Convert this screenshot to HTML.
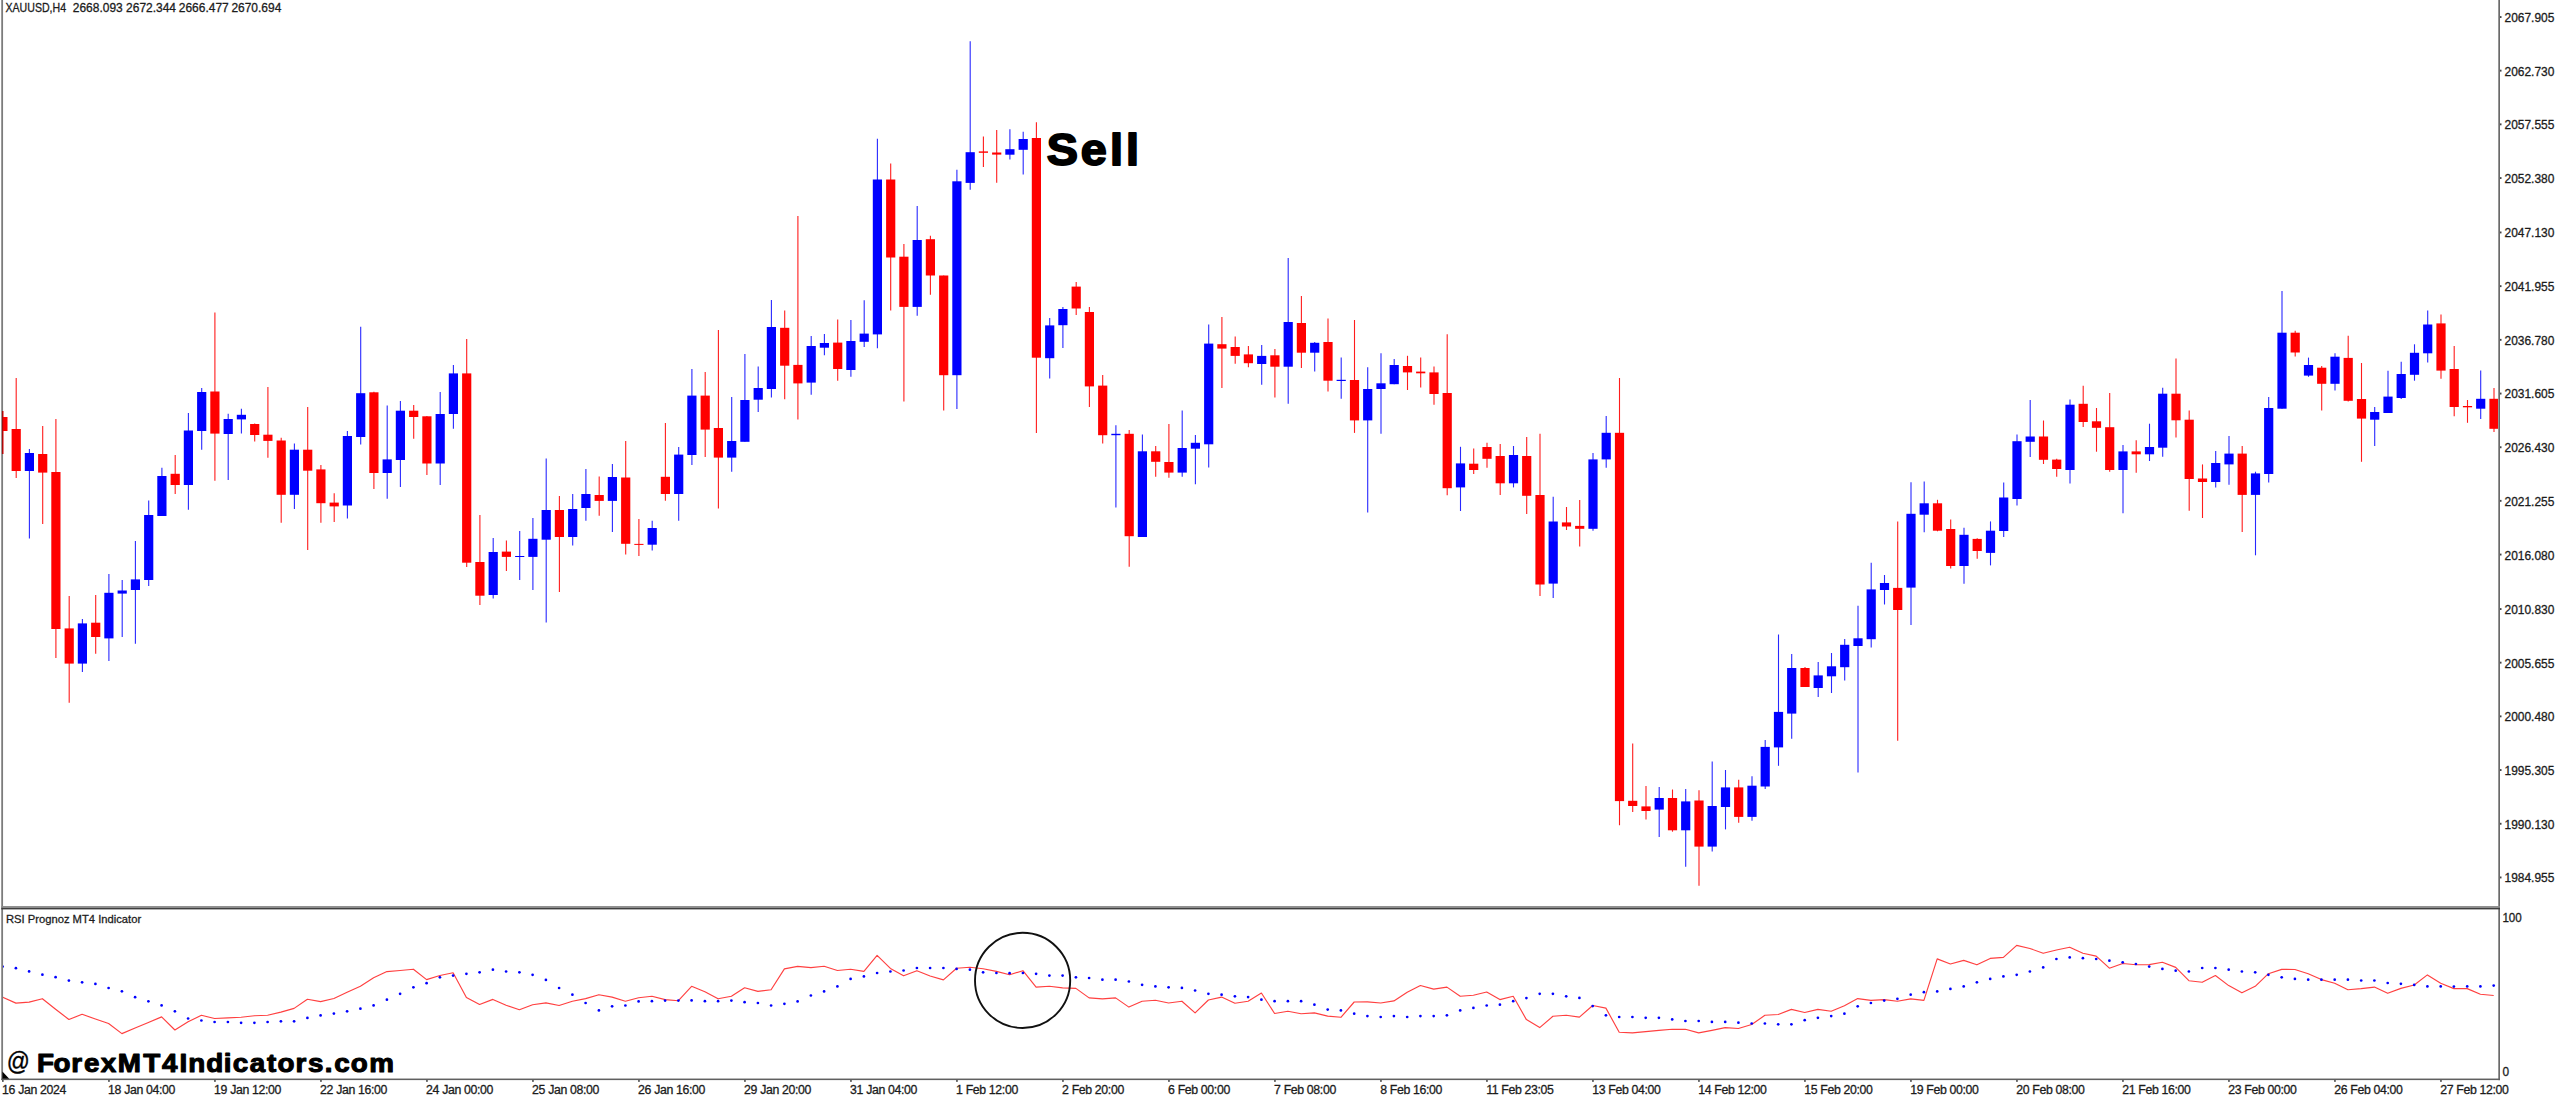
<!DOCTYPE html>
<html lang="en"><head><meta charset="utf-8"><title>XAUUSD H4 - RSI Prognoz MT4 Indicator</title>
<style>
html,body{margin:0;padding:0;background:#fff;}
body{width:2560px;height:1097px;overflow:hidden;position:relative;font-family:"Liberation Sans",sans-serif;}
svg{position:absolute;left:0;top:0;display:block;}
.t{font-family:"Liberation Sans",sans-serif;font-size:12.3px;fill:#1c1c1c;letter-spacing:-0.35px;stroke:#1c1c1c;stroke-width:0.3px;}
.u{font-family:"Liberation Sans",sans-serif;font-size:12.3px;fill:#1c1c1c;stroke:#1c1c1c;stroke-width:0.3px;}
.s{font-family:"Liberation Sans",sans-serif;font-size:11.8px;fill:#1c1c1c;stroke:#1c1c1c;stroke-width:0.3px;}
.w{stroke-width:1.1;fill:none;}
.rw{stroke:#ff1c1c;}
.bw{stroke:#2828ff;}
.r{fill:#ff0000;}
.b{fill:#0000ff;}
.big{font-family:"Liberation Sans",sans-serif;font-weight:bold;fill:#000;stroke:#000;stroke-linejoin:round;}
</style></head><body>
<svg width="2560" height="1097" viewBox="0 0 2560 1097">
<rect x="0" y="0" width="2560" height="1097" fill="#ffffff"/>
<defs><clipPath id="cp"><rect x="3" y="0" width="2495" height="1079"/></clipPath></defs>
<g clip-path="url(#cp)">
<path class="w rw" d="M2.9 411.0V454.0"/>
<rect class="r" x="-1.7" y="417.0" width="9.2" height="14.0"/>
<path class="w rw" d="M16.2 378.0V478.0"/>
<rect class="r" x="11.6" y="429.0" width="9.2" height="42.0"/>
<path class="w bw" d="M29.4 449.0V538.5"/>
<rect class="b" x="24.8" y="453.0" width="9.2" height="18.0"/>
<path class="w rw" d="M42.7 426.0V524.0"/>
<rect class="r" x="38.1" y="454.0" width="9.2" height="18.6"/>
<path class="w rw" d="M55.9 419.0V658.0"/>
<rect class="r" x="51.3" y="472.0" width="9.2" height="157.0"/>
<path class="w rw" d="M69.2 596.0V702.7"/>
<rect class="r" x="64.6" y="628.4" width="9.2" height="35.2"/>
<path class="w bw" d="M82.4 619.0V672.0"/>
<rect class="b" x="77.8" y="623.4" width="9.2" height="40.2"/>
<path class="w rw" d="M95.7 595.0V653.7"/>
<rect class="r" x="91.1" y="622.7" width="9.2" height="14.3"/>
<path class="w bw" d="M108.9 574.0V661.0"/>
<rect class="b" x="104.3" y="592.8" width="9.2" height="45.6"/>
<path class="w bw" d="M122.2 580.0V637.0"/>
<rect class="b" x="117.6" y="590.5" width="9.2" height="3.1"/>
<path class="w bw" d="M135.4 541.0V643.7"/>
<rect class="b" x="130.8" y="579.4" width="9.2" height="10.6"/>
<path class="w bw" d="M148.7 500.6V586.0"/>
<rect class="b" x="144.1" y="515.0" width="9.2" height="65.0"/>
<path class="w bw" d="M161.9 467.7V516.0"/>
<rect class="b" x="157.3" y="476.0" width="9.2" height="40.0"/>
<path class="w rw" d="M175.2 455.0V494.0"/>
<rect class="r" x="170.6" y="473.8" width="9.2" height="11.2"/>
<path class="w bw" d="M188.4 413.0V509.8"/>
<rect class="b" x="183.8" y="430.5" width="9.2" height="54.5"/>
<path class="w bw" d="M201.7 388.0V449.7"/>
<rect class="b" x="197.1" y="392.0" width="9.2" height="39.0"/>
<path class="w rw" d="M214.9 312.6V480.7"/>
<rect class="r" x="210.3" y="391.5" width="9.2" height="42.1"/>
<path class="w bw" d="M228.2 413.7V480.0"/>
<rect class="b" x="223.6" y="419.0" width="9.2" height="15.0"/>
<path class="w bw" d="M241.4 408.7V433.6"/>
<rect class="b" x="236.8" y="414.8" width="9.2" height="4.6"/>
<path class="w rw" d="M254.7 423.6V441.6"/>
<rect class="r" x="250.1" y="424.0" width="9.2" height="11.0"/>
<path class="w rw" d="M267.9 387.0V457.7"/>
<rect class="r" x="263.3" y="434.7" width="9.2" height="6.2"/>
<path class="w rw" d="M281.2 437.8V522.8"/>
<rect class="r" x="276.6" y="440.5" width="9.2" height="54.3"/>
<path class="w bw" d="M294.4 443.5V509.0"/>
<rect class="b" x="289.8" y="449.7" width="9.2" height="45.1"/>
<path class="w rw" d="M307.7 407.0V550.0"/>
<rect class="r" x="303.1" y="449.7" width="9.2" height="21.0"/>
<path class="w rw" d="M320.9 465.0V522.7"/>
<rect class="r" x="316.3" y="469.4" width="9.2" height="33.8"/>
<path class="w rw" d="M334.2 493.3V522.0"/>
<rect class="r" x="329.6" y="502.6" width="9.2" height="3.8"/>
<path class="w bw" d="M347.4 430.9V518.4"/>
<rect class="b" x="342.8" y="436.0" width="9.2" height="69.5"/>
<path class="w bw" d="M360.7 326.7V444.6"/>
<rect class="b" x="356.1" y="393.2" width="9.2" height="43.8"/>
<path class="w rw" d="M373.9 391.8V489.0"/>
<rect class="r" x="369.3" y="392.3" width="9.2" height="80.7"/>
<path class="w bw" d="M387.2 405.5V498.8"/>
<rect class="b" x="382.6" y="459.4" width="9.2" height="13.6"/>
<path class="w bw" d="M400.4 401.0V486.9"/>
<rect class="b" x="395.8" y="410.7" width="9.2" height="49.3"/>
<path class="w rw" d="M413.7 405.0V438.7"/>
<rect class="r" x="409.1" y="410.7" width="9.2" height="6.3"/>
<path class="w rw" d="M426.9 416.0V475.0"/>
<rect class="r" x="422.3" y="416.3" width="9.2" height="47.2"/>
<path class="w bw" d="M440.2 392.0V485.0"/>
<rect class="b" x="435.6" y="414.0" width="9.2" height="49.5"/>
<path class="w bw" d="M453.4 365.0V428.8"/>
<rect class="b" x="448.8" y="373.4" width="9.2" height="40.6"/>
<path class="w rw" d="M466.7 339.0V567.0"/>
<rect class="r" x="462.1" y="373.4" width="9.2" height="189.3"/>
<path class="w rw" d="M479.9 515.0V605.0"/>
<rect class="r" x="475.3" y="562.0" width="9.2" height="33.7"/>
<path class="w bw" d="M493.2 538.0V598.6"/>
<rect class="b" x="488.6" y="552.0" width="9.2" height="43.0"/>
<path class="w rw" d="M506.4 540.5V570.9"/>
<rect class="r" x="501.8" y="551.6" width="9.2" height="5.3"/>
<path class="w bw" d="M519.7 531.0V580.0"/>
<rect class="b" x="515.1" y="556.0" width="9.2" height="1.0"/>
<path class="w bw" d="M532.9 518.0V590.0"/>
<rect class="b" x="528.3" y="538.8" width="9.2" height="18.1"/>
<path class="w bw" d="M546.2 458.6V622.5"/>
<rect class="b" x="541.6" y="510.0" width="9.2" height="29.7"/>
<path class="w rw" d="M559.4 496.0V591.9"/>
<rect class="r" x="554.8" y="510.0" width="9.2" height="27.0"/>
<path class="w bw" d="M572.7 494.0V545.5"/>
<rect class="b" x="568.1" y="509.0" width="9.2" height="28.0"/>
<path class="w bw" d="M585.9 469.0V520.7"/>
<rect class="b" x="581.3" y="494.0" width="9.2" height="14.0"/>
<path class="w rw" d="M599.2 476.6V515.7"/>
<rect class="r" x="594.6" y="495.0" width="9.2" height="5.9"/>
<path class="w bw" d="M612.4 464.0V532.0"/>
<rect class="b" x="607.8" y="477.0" width="9.2" height="23.9"/>
<path class="w rw" d="M625.7 441.0V554.5"/>
<rect class="r" x="621.1" y="477.5" width="9.2" height="66.3"/>
<path class="w rw" d="M638.9 518.9V556.0"/>
<rect class="r" x="634.3" y="543.9" width="9.2" height="1.0"/>
<path class="w bw" d="M652.2 520.7V550.5"/>
<rect class="b" x="647.6" y="528.0" width="9.2" height="16.7"/>
<path class="w rw" d="M665.4 423.0V500.8"/>
<rect class="r" x="660.8" y="476.8" width="9.2" height="17.2"/>
<path class="w bw" d="M678.7 447.0V520.7"/>
<rect class="b" x="674.1" y="454.6" width="9.2" height="39.4"/>
<path class="w bw" d="M691.9 369.0V465.0"/>
<rect class="b" x="687.3" y="395.6" width="9.2" height="59.4"/>
<path class="w rw" d="M705.2 372.0V456.9"/>
<rect class="r" x="700.6" y="395.6" width="9.2" height="34.0"/>
<path class="w rw" d="M718.4 330.0V508.4"/>
<rect class="r" x="713.8" y="428.0" width="9.2" height="29.6"/>
<path class="w bw" d="M731.7 397.0V471.7"/>
<rect class="b" x="727.1" y="441.0" width="9.2" height="16.6"/>
<path class="w bw" d="M744.9 354.0V441.8"/>
<rect class="b" x="740.3" y="400.0" width="9.2" height="41.8"/>
<path class="w bw" d="M758.2 366.5V412.0"/>
<rect class="b" x="753.6" y="388.0" width="9.2" height="11.7"/>
<path class="w bw" d="M771.4 300.0V397.4"/>
<rect class="b" x="766.8" y="327.0" width="9.2" height="62.0"/>
<path class="w rw" d="M784.7 310.4V399.2"/>
<rect class="r" x="780.1" y="327.8" width="9.2" height="37.9"/>
<path class="w rw" d="M797.9 216.0V419.6"/>
<rect class="r" x="793.3" y="364.9" width="9.2" height="18.5"/>
<path class="w bw" d="M811.2 336.0V394.7"/>
<rect class="b" x="806.6" y="346.0" width="9.2" height="36.6"/>
<path class="w bw" d="M824.4 334.0V355.3"/>
<rect class="b" x="819.8" y="343.0" width="9.2" height="4.7"/>
<path class="w rw" d="M837.7 319.4V380.7"/>
<rect class="r" x="833.1" y="342.6" width="9.2" height="26.4"/>
<path class="w bw" d="M850.9 320.0V376.8"/>
<rect class="b" x="846.3" y="341.0" width="9.2" height="29.0"/>
<path class="w bw" d="M864.2 300.3V346.9"/>
<rect class="b" x="859.6" y="333.6" width="9.2" height="8.2"/>
<path class="w bw" d="M877.4 138.7V348.2"/>
<rect class="b" x="872.8" y="179.5" width="9.2" height="154.9"/>
<path class="w rw" d="M890.7 163.6V310.6"/>
<rect class="r" x="886.1" y="179.5" width="9.2" height="78.0"/>
<path class="w rw" d="M903.9 244.0V401.6"/>
<rect class="r" x="899.3" y="256.7" width="9.2" height="50.2"/>
<path class="w bw" d="M917.2 205.9V315.7"/>
<rect class="b" x="912.6" y="240.0" width="9.2" height="66.9"/>
<path class="w rw" d="M930.4 235.8V294.8"/>
<rect class="r" x="925.8" y="239.2" width="9.2" height="36.3"/>
<path class="w rw" d="M943.7 275.5V410.6"/>
<rect class="r" x="939.1" y="275.5" width="9.2" height="99.7"/>
<path class="w bw" d="M956.9 169.7V409.0"/>
<rect class="b" x="952.3" y="181.3" width="9.2" height="193.9"/>
<path class="w bw" d="M970.2 41.2V189.8"/>
<rect class="b" x="965.6" y="152.2" width="9.2" height="30.7"/>
<path class="w rw" d="M983.4 136.5V167.1"/>
<rect class="r" x="978.8" y="151.4" width="9.2" height="1.4"/>
<path class="w rw" d="M996.7 130.0V182.7"/>
<rect class="r" x="992.1" y="152.5" width="9.2" height="2.1"/>
<path class="w bw" d="M1009.9 129.2V159.5"/>
<rect class="b" x="1005.3" y="149.2" width="9.2" height="5.5"/>
<path class="w bw" d="M1023.2 131.7V174.4"/>
<rect class="b" x="1018.6" y="139.0" width="9.2" height="10.8"/>
<path class="w rw" d="M1036.4 122.2V433.1"/>
<rect class="r" x="1031.8" y="138.0" width="9.2" height="219.7"/>
<path class="w bw" d="M1049.7 318.0V378.6"/>
<rect class="b" x="1045.1" y="325.4" width="9.2" height="32.8"/>
<path class="w bw" d="M1062.9 307.0V348.0"/>
<rect class="b" x="1058.3" y="309.0" width="9.2" height="16.2"/>
<path class="w rw" d="M1076.2 282.0V315.0"/>
<rect class="r" x="1071.6" y="286.6" width="9.2" height="21.9"/>
<path class="w rw" d="M1089.4 307.0V407.0"/>
<rect class="r" x="1084.8" y="312.0" width="9.2" height="74.4"/>
<path class="w rw" d="M1102.7 374.9V443.4"/>
<rect class="r" x="1098.1" y="385.6" width="9.2" height="49.6"/>
<path class="w bw" d="M1115.9 425.3V507.6"/>
<rect class="b" x="1111.3" y="433.8" width="9.2" height="1.4"/>
<path class="w rw" d="M1129.2 430.0V566.8"/>
<rect class="r" x="1124.6" y="433.8" width="9.2" height="102.4"/>
<path class="w bw" d="M1142.4 434.4V537.0"/>
<rect class="b" x="1137.8" y="451.3" width="9.2" height="85.7"/>
<path class="w rw" d="M1155.7 446.0V476.7"/>
<rect class="r" x="1151.1" y="451.3" width="9.2" height="10.5"/>
<path class="w rw" d="M1168.9 423.9V477.8"/>
<rect class="r" x="1164.3" y="462.0" width="9.2" height="10.6"/>
<path class="w bw" d="M1182.2 410.4V476.7"/>
<rect class="b" x="1177.6" y="448.0" width="9.2" height="24.6"/>
<path class="w bw" d="M1195.4 435.0V484.2"/>
<rect class="b" x="1190.8" y="442.8" width="9.2" height="5.9"/>
<path class="w bw" d="M1208.7 324.4V467.6"/>
<rect class="b" x="1204.1" y="343.6" width="9.2" height="100.7"/>
<path class="w rw" d="M1221.9 317.0V388.0"/>
<rect class="r" x="1217.3" y="344.2" width="9.2" height="4.4"/>
<path class="w rw" d="M1235.2 336.6V363.8"/>
<rect class="r" x="1230.6" y="347.0" width="9.2" height="8.9"/>
<path class="w rw" d="M1248.4 346.0V367.3"/>
<rect class="r" x="1243.8" y="354.4" width="9.2" height="8.8"/>
<path class="w bw" d="M1261.7 345.0V384.8"/>
<rect class="b" x="1257.1" y="355.9" width="9.2" height="8.1"/>
<path class="w rw" d="M1274.9 349.0V397.6"/>
<rect class="r" x="1270.3" y="355.3" width="9.2" height="11.4"/>
<path class="w bw" d="M1288.2 258.0V403.7"/>
<rect class="b" x="1283.6" y="322.0" width="9.2" height="44.7"/>
<path class="w rw" d="M1301.4 296.0V368.0"/>
<rect class="r" x="1296.8" y="323.0" width="9.2" height="29.7"/>
<path class="w bw" d="M1314.7 342.0V371.6"/>
<rect class="b" x="1310.1" y="342.8" width="9.2" height="9.9"/>
<path class="w rw" d="M1328.0 318.6V391.5"/>
<rect class="r" x="1323.4" y="342.0" width="9.2" height="38.7"/>
<path class="w bw" d="M1341.2 357.4V398.8"/>
<rect class="b" x="1336.6" y="379.8" width="9.2" height="1.2"/>
<path class="w rw" d="M1354.5 320.0V432.9"/>
<rect class="r" x="1349.9" y="380.0" width="9.2" height="40.4"/>
<path class="w bw" d="M1367.7 367.3V512.5"/>
<rect class="b" x="1363.1" y="389.0" width="9.2" height="31.4"/>
<path class="w bw" d="M1381.0 353.3V433.8"/>
<rect class="b" x="1376.4" y="383.3" width="9.2" height="5.7"/>
<path class="w bw" d="M1394.2 359.0V384.2"/>
<rect class="b" x="1389.6" y="365.0" width="9.2" height="19.2"/>
<path class="w rw" d="M1407.5 355.8V390.0"/>
<rect class="r" x="1402.9" y="366.0" width="9.2" height="6.4"/>
<path class="w rw" d="M1420.7 357.5V387.6"/>
<rect class="r" x="1416.1" y="371.6" width="9.2" height="1.7"/>
<path class="w rw" d="M1434.0 366.6V404.8"/>
<rect class="r" x="1429.4" y="372.4" width="9.2" height="21.6"/>
<path class="w rw" d="M1447.2 334.2V495.2"/>
<rect class="r" x="1442.6" y="393.0" width="9.2" height="95.2"/>
<path class="w bw" d="M1460.5 446.8V511.0"/>
<rect class="b" x="1455.9" y="463.4" width="9.2" height="24.0"/>
<path class="w rw" d="M1473.7 448.6V474.0"/>
<rect class="r" x="1469.1" y="463.7" width="9.2" height="6.3"/>
<path class="w rw" d="M1487.0 442.7V467.8"/>
<rect class="r" x="1482.4" y="447.0" width="9.2" height="11.8"/>
<path class="w rw" d="M1500.2 444.0V495.0"/>
<rect class="r" x="1495.6" y="456.0" width="9.2" height="27.3"/>
<path class="w bw" d="M1513.5 446.0V487.4"/>
<rect class="b" x="1508.9" y="455.0" width="9.2" height="28.3"/>
<path class="w rw" d="M1526.7 437.0V514.0"/>
<rect class="r" x="1522.1" y="456.0" width="9.2" height="39.8"/>
<path class="w rw" d="M1540.0 433.7V596.0"/>
<rect class="r" x="1535.4" y="495.0" width="9.2" height="89.5"/>
<path class="w bw" d="M1553.2 496.7V598.0"/>
<rect class="b" x="1548.6" y="521.5" width="9.2" height="62.1"/>
<path class="w rw" d="M1566.5 507.0V530.0"/>
<rect class="r" x="1561.9" y="522.4" width="9.2" height="4.1"/>
<path class="w rw" d="M1579.7 500.0V546.6"/>
<rect class="r" x="1575.1" y="525.9" width="9.2" height="2.9"/>
<path class="w bw" d="M1593.0 453.0V530.8"/>
<rect class="b" x="1588.4" y="459.4" width="9.2" height="69.4"/>
<path class="w bw" d="M1606.2 416.0V467.8"/>
<rect class="b" x="1601.6" y="432.8" width="9.2" height="26.6"/>
<path class="w rw" d="M1619.5 378.0V825.3"/>
<rect class="r" x="1614.9" y="432.8" width="9.2" height="368.3"/>
<path class="w rw" d="M1632.7 743.4V812.0"/>
<rect class="r" x="1628.1" y="800.8" width="9.2" height="5.2"/>
<path class="w rw" d="M1646.0 786.0V819.5"/>
<rect class="r" x="1641.4" y="806.4" width="9.2" height="4.6"/>
<path class="w bw" d="M1659.2 787.0V837.0"/>
<rect class="b" x="1654.6" y="798.0" width="9.2" height="11.6"/>
<path class="w rw" d="M1672.5 789.5V831.7"/>
<rect class="r" x="1667.9" y="798.0" width="9.2" height="32.3"/>
<path class="w bw" d="M1685.7 788.9V866.8"/>
<rect class="b" x="1681.1" y="801.4" width="9.2" height="28.9"/>
<path class="w rw" d="M1699.0 790.3V885.7"/>
<rect class="r" x="1694.4" y="800.5" width="9.2" height="46.1"/>
<path class="w bw" d="M1712.2 761.4V851.6"/>
<rect class="b" x="1707.6" y="806.0" width="9.2" height="40.6"/>
<path class="w bw" d="M1725.5 770.0V829.4"/>
<rect class="b" x="1720.9" y="787.4" width="9.2" height="19.6"/>
<path class="w rw" d="M1738.7 779.8V822.7"/>
<rect class="r" x="1734.1" y="787.4" width="9.2" height="29.5"/>
<path class="w bw" d="M1752.0 776.3V820.7"/>
<rect class="b" x="1747.4" y="785.7" width="9.2" height="31.2"/>
<path class="w bw" d="M1765.2 739.9V788.9"/>
<rect class="b" x="1760.6" y="746.9" width="9.2" height="39.6"/>
<path class="w bw" d="M1778.5 634.5V765.8"/>
<rect class="b" x="1773.9" y="711.9" width="9.2" height="35.5"/>
<path class="w bw" d="M1791.7 654.0V738.7"/>
<rect class="b" x="1787.1" y="668.0" width="9.2" height="45.6"/>
<path class="w rw" d="M1805.0 667.0V687.0"/>
<rect class="r" x="1800.4" y="668.0" width="9.2" height="19.0"/>
<path class="w bw" d="M1818.2 662.0V697.0"/>
<rect class="b" x="1813.6" y="675.4" width="9.2" height="12.6"/>
<path class="w bw" d="M1831.5 653.0V693.0"/>
<rect class="b" x="1826.9" y="666.3" width="9.2" height="10.0"/>
<path class="w bw" d="M1844.7 639.0V680.6"/>
<rect class="b" x="1840.1" y="644.8" width="9.2" height="22.4"/>
<path class="w bw" d="M1858.0 605.7V772.5"/>
<rect class="b" x="1853.4" y="638.3" width="9.2" height="7.7"/>
<path class="w bw" d="M1871.2 562.8V647.4"/>
<rect class="b" x="1866.6" y="589.4" width="9.2" height="49.8"/>
<path class="w bw" d="M1884.5 575.0V604.5"/>
<rect class="b" x="1879.9" y="583.0" width="9.2" height="7.0"/>
<path class="w rw" d="M1897.7 521.4V740.7"/>
<rect class="r" x="1893.1" y="587.9" width="9.2" height="22.1"/>
<path class="w bw" d="M1911.0 482.3V625.0"/>
<rect class="b" x="1906.4" y="513.8" width="9.2" height="73.8"/>
<path class="w bw" d="M1924.2 481.4V532.2"/>
<rect class="b" x="1919.6" y="503.3" width="9.2" height="11.4"/>
<path class="w rw" d="M1937.5 499.8V531.3"/>
<rect class="r" x="1932.9" y="503.3" width="9.2" height="27.4"/>
<path class="w rw" d="M1950.7 519.6V568.4"/>
<rect class="r" x="1946.1" y="529.0" width="9.2" height="37.0"/>
<path class="w bw" d="M1964.0 527.8V583.8"/>
<rect class="b" x="1959.4" y="534.8" width="9.2" height="31.2"/>
<path class="w rw" d="M1977.2 538.3V558.7"/>
<rect class="r" x="1972.6" y="538.9" width="9.2" height="12.1"/>
<path class="w bw" d="M1990.5 521.4V565.4"/>
<rect class="b" x="1985.9" y="530.7" width="9.2" height="22.2"/>
<path class="w bw" d="M2003.7 482.6V537.0"/>
<rect class="b" x="1999.1" y="497.5" width="9.2" height="33.5"/>
<path class="w bw" d="M2017.0 434.5V505.6"/>
<rect class="b" x="2012.4" y="441.2" width="9.2" height="57.8"/>
<path class="w bw" d="M2030.2 400.0V457.0"/>
<rect class="b" x="2025.6" y="436.5" width="9.2" height="5.3"/>
<path class="w rw" d="M2043.5 420.5V464.0"/>
<rect class="r" x="2038.9" y="436.5" width="9.2" height="23.3"/>
<path class="w rw" d="M2056.7 458.7V476.8"/>
<rect class="r" x="2052.1" y="459.6" width="9.2" height="9.4"/>
<path class="w bw" d="M2070.0 399.5V483.5"/>
<rect class="b" x="2065.4" y="404.7" width="9.2" height="65.3"/>
<path class="w rw" d="M2083.2 385.8V427.0"/>
<rect class="r" x="2078.6" y="403.8" width="9.2" height="18.2"/>
<path class="w rw" d="M2096.5 408.0V451.7"/>
<rect class="r" x="2091.9" y="421.3" width="9.2" height="6.5"/>
<path class="w rw" d="M2109.7 393.0V471.8"/>
<rect class="r" x="2105.1" y="427.2" width="9.2" height="42.8"/>
<path class="w bw" d="M2123.0 445.0V513.2"/>
<rect class="b" x="2118.4" y="451.4" width="9.2" height="18.6"/>
<path class="w rw" d="M2136.2 440.3V472.7"/>
<rect class="r" x="2131.6" y="451.4" width="9.2" height="2.9"/>
<path class="w bw" d="M2149.5 423.7V461.0"/>
<rect class="b" x="2144.9" y="447.0" width="9.2" height="7.3"/>
<path class="w bw" d="M2162.7 387.8V456.7"/>
<rect class="b" x="2158.1" y="393.7" width="9.2" height="54.0"/>
<path class="w rw" d="M2176.0 358.4V437.5"/>
<rect class="r" x="2171.4" y="393.7" width="9.2" height="26.6"/>
<path class="w rw" d="M2189.2 410.4V510.7"/>
<rect class="r" x="2184.6" y="419.7" width="9.2" height="59.3"/>
<path class="w rw" d="M2202.5 464.4V518.0"/>
<rect class="r" x="2197.9" y="478.5" width="9.2" height="3.5"/>
<path class="w bw" d="M2215.7 451.0V487.5"/>
<rect class="b" x="2211.1" y="463.0" width="9.2" height="19.0"/>
<path class="w bw" d="M2229.0 436.0V484.7"/>
<rect class="b" x="2224.4" y="453.6" width="9.2" height="10.8"/>
<path class="w rw" d="M2242.2 446.0V532.0"/>
<rect class="r" x="2237.6" y="453.6" width="9.2" height="41.3"/>
<path class="w bw" d="M2255.5 471.7V555.3"/>
<rect class="b" x="2250.9" y="473.4" width="9.2" height="21.5"/>
<path class="w bw" d="M2268.7 397.0V482.4"/>
<rect class="b" x="2264.1" y="408.0" width="9.2" height="66.0"/>
<path class="w bw" d="M2282.0 291.0V408.7"/>
<rect class="b" x="2277.4" y="332.7" width="9.2" height="76.0"/>
<path class="w rw" d="M2295.2 330.7V356.4"/>
<rect class="r" x="2290.6" y="332.7" width="9.2" height="19.8"/>
<path class="w bw" d="M2308.5 357.6V376.8"/>
<rect class="b" x="2303.9" y="365.0" width="9.2" height="10.6"/>
<path class="w rw" d="M2321.7 366.0V410.4"/>
<rect class="r" x="2317.1" y="367.7" width="9.2" height="16.1"/>
<path class="w bw" d="M2335.0 353.3V390.6"/>
<rect class="b" x="2330.4" y="356.7" width="9.2" height="27.1"/>
<path class="w rw" d="M2348.2 335.8V401.6"/>
<rect class="r" x="2343.6" y="357.9" width="9.2" height="42.9"/>
<path class="w rw" d="M2361.5 363.0V461.8"/>
<rect class="r" x="2356.9" y="399.0" width="9.2" height="19.6"/>
<path class="w bw" d="M2374.7 407.0V446.0"/>
<rect class="b" x="2370.1" y="412.0" width="9.2" height="7.7"/>
<path class="w bw" d="M2388.0 370.8V413.0"/>
<rect class="b" x="2383.4" y="396.6" width="9.2" height="16.4"/>
<path class="w bw" d="M2401.2 361.8V399.0"/>
<rect class="b" x="2396.6" y="374.0" width="9.2" height="24.0"/>
<path class="w bw" d="M2414.5 344.3V380.7"/>
<rect class="b" x="2409.9" y="352.8" width="9.2" height="22.0"/>
<path class="w bw" d="M2427.7 310.4V362.4"/>
<rect class="b" x="2423.1" y="324.5" width="9.2" height="28.8"/>
<path class="w rw" d="M2441.0 314.4V378.8"/>
<rect class="r" x="2436.4" y="323.4" width="9.2" height="47.2"/>
<path class="w rw" d="M2454.2 346.0V416.3"/>
<rect class="r" x="2449.6" y="369.0" width="9.2" height="38.0"/>
<path class="w rw" d="M2467.5 400.0V422.8"/>
<rect class="r" x="2462.9" y="406.0" width="9.2" height="1.3"/>
<path class="w bw" d="M2480.7 370.6V418.9"/>
<rect class="b" x="2476.1" y="398.8" width="9.2" height="9.9"/>
<path class="w rw" d="M2494.0 388.0V431.9"/>
<rect class="r" x="2489.4" y="398.8" width="9.2" height="30.0"/>
<polyline points="2.6,997.2 15.9,1003.1 29.1,1002.1 42.4,998.7 55.6,1009.2 68.9,1019.5 82.1,1014.3 95.4,1019.0 108.6,1023.5 121.9,1033.6 135.1,1028.0 148.4,1022.5 161.6,1016.9 174.9,1030.0 188.1,1021.8 201.4,1015.3 214.6,1018.5 227.9,1017.9 241.1,1017.2 254.4,1015.7 267.6,1015.3 280.9,1012.1 294.1,1008.4 307.4,999.3 320.6,1001.6 333.9,998.5 347.1,992.3 360.4,986.2 373.6,977.8 386.9,971.6 400.1,970.5 413.4,969.2 426.6,979.6 439.9,975.5 453.1,972.8 466.4,997.4 479.6,1004.5 492.9,999.4 506.1,1005.3 519.4,1009.7 532.6,1004.7 545.9,1002.9 559.1,1005.5 572.4,1001.2 585.6,998.6 598.9,994.7 612.1,997.1 625.4,1001.2 638.6,997.8 651.9,996.3 665.1,999.6 678.4,1000.7 691.6,986.3 704.9,991.7 718.1,998.8 731.4,996.3 744.6,987.8 757.9,991.4 771.1,989.7 784.4,968.9 797.6,966.4 810.9,967.6 824.1,966.3 837.4,970.5 850.6,969.2 863.9,971.4 877.1,955.4 890.4,968.4 903.6,975.8 916.9,970.7 930.1,976.0 943.4,979.9 956.6,968.2 969.9,967.3 983.1,968.7 996.4,971.4 1009.6,974.8 1022.9,970.7 1036.1,987.1 1049.4,986.3 1062.6,987.9 1075.9,988.4 1089.1,997.9 1102.4,998.9 1115.6,997.9 1128.9,1007.1 1142.1,1001.2 1155.4,1000.2 1168.6,1003.0 1181.9,1001.2 1195.1,1012.9 1208.4,1000.0 1221.6,997.1 1234.9,1003.2 1248.1,1001.2 1261.4,993.0 1274.6,1013.5 1287.9,1011.2 1301.1,1013.7 1314.4,1012.9 1327.7,1016.1 1340.9,1017.3 1354.2,1002.0 1367.4,1001.9 1380.7,1003.0 1393.9,1000.9 1407.2,992.2 1420.4,985.5 1433.7,989.1 1446.9,987.1 1460.2,996.3 1473.4,995.3 1486.7,992.0 1499.9,999.6 1513.2,996.3 1526.4,1019.6 1539.7,1027.6 1552.9,1016.3 1566.2,1015.2 1579.4,1017.1 1592.7,1005.5 1605.9,1008.1 1619.2,1032.2 1632.4,1032.9 1645.7,1031.6 1658.9,1030.4 1672.2,1029.3 1685.4,1029.3 1698.7,1032.9 1711.9,1030.4 1725.2,1027.6 1738.4,1028.5 1751.7,1024.5 1764.9,1015.3 1778.2,1014.5 1791.4,1009.4 1804.7,1012.5 1817.9,1009.4 1831.2,1011.2 1844.4,1005.8 1857.7,998.6 1870.9,1000.4 1884.2,999.6 1897.4,1001.2 1910.7,998.9 1923.9,1000.4 1937.2,958.9 1950.4,964.0 1963.7,960.4 1976.9,964.8 1990.2,958.4 2003.4,957.4 2016.7,945.4 2029.9,948.5 2043.2,953.3 2056.4,950.0 2069.7,947.2 2082.9,953.3 2096.2,956.1 2109.4,968.2 2122.7,963.5 2135.9,964.8 2149.2,964.6 2162.4,962.3 2175.7,967.4 2188.9,980.7 2202.2,982.3 2215.4,975.5 2228.7,985.6 2241.9,992.8 2255.2,986.3 2268.4,973.7 2281.7,969.4 2294.9,969.5 2308.2,973.7 2321.4,979.6 2334.7,983.2 2347.9,989.7 2361.2,988.6 2374.4,987.1 2387.7,993.3 2400.9,988.4 2414.2,985.0 2427.4,974.9 2440.7,983.2 2453.9,988.6 2467.2,988.6 2480.4,994.3 2493.7,995.5" fill="none" stroke="#ff4040" stroke-width="1.15" stroke-linejoin="round"/>
<circle cx="2.6" cy="966.5" r="1.35" fill="#0000ff"/>
<circle cx="15.9" cy="968.2" r="1.35" fill="#0000ff"/>
<circle cx="29.1" cy="971.4" r="1.35" fill="#0000ff"/>
<circle cx="42.4" cy="974.7" r="1.35" fill="#0000ff"/>
<circle cx="55.6" cy="977.2" r="1.35" fill="#0000ff"/>
<circle cx="68.9" cy="980.6" r="1.35" fill="#0000ff"/>
<circle cx="82.1" cy="982.3" r="1.35" fill="#0000ff"/>
<circle cx="95.4" cy="983.9" r="1.35" fill="#0000ff"/>
<circle cx="108.6" cy="988.0" r="1.35" fill="#0000ff"/>
<circle cx="121.9" cy="991.3" r="1.35" fill="#0000ff"/>
<circle cx="135.1" cy="997.2" r="1.35" fill="#0000ff"/>
<circle cx="148.4" cy="1001.3" r="1.35" fill="#0000ff"/>
<circle cx="161.6" cy="1005.4" r="1.35" fill="#0000ff"/>
<circle cx="174.9" cy="1011.3" r="1.35" fill="#0000ff"/>
<circle cx="188.1" cy="1018.5" r="1.35" fill="#0000ff"/>
<circle cx="201.4" cy="1020.5" r="1.35" fill="#0000ff"/>
<circle cx="214.6" cy="1022.0" r="1.35" fill="#0000ff"/>
<circle cx="227.9" cy="1022.0" r="1.35" fill="#0000ff"/>
<circle cx="241.1" cy="1022.8" r="1.35" fill="#0000ff"/>
<circle cx="254.4" cy="1022.8" r="1.35" fill="#0000ff"/>
<circle cx="267.6" cy="1022.0" r="1.35" fill="#0000ff"/>
<circle cx="280.9" cy="1021.3" r="1.35" fill="#0000ff"/>
<circle cx="294.1" cy="1021.3" r="1.35" fill="#0000ff"/>
<circle cx="307.4" cy="1017.9" r="1.35" fill="#0000ff"/>
<circle cx="320.6" cy="1015.4" r="1.35" fill="#0000ff"/>
<circle cx="333.9" cy="1013.6" r="1.35" fill="#0000ff"/>
<circle cx="347.1" cy="1011.3" r="1.35" fill="#0000ff"/>
<circle cx="360.4" cy="1008.7" r="1.35" fill="#0000ff"/>
<circle cx="373.6" cy="1005.4" r="1.35" fill="#0000ff"/>
<circle cx="386.9" cy="999.7" r="1.35" fill="#0000ff"/>
<circle cx="400.1" cy="993.8" r="1.35" fill="#0000ff"/>
<circle cx="413.4" cy="987.3" r="1.35" fill="#0000ff"/>
<circle cx="426.6" cy="983.2" r="1.35" fill="#0000ff"/>
<circle cx="439.9" cy="977.3" r="1.35" fill="#0000ff"/>
<circle cx="453.1" cy="975.6" r="1.35" fill="#0000ff"/>
<circle cx="466.4" cy="973.8" r="1.35" fill="#0000ff"/>
<circle cx="479.6" cy="972.3" r="1.35" fill="#0000ff"/>
<circle cx="492.9" cy="969.7" r="1.35" fill="#0000ff"/>
<circle cx="506.1" cy="971.5" r="1.35" fill="#0000ff"/>
<circle cx="519.4" cy="972.3" r="1.35" fill="#0000ff"/>
<circle cx="532.6" cy="974.8" r="1.35" fill="#0000ff"/>
<circle cx="545.9" cy="979.9" r="1.35" fill="#0000ff"/>
<circle cx="559.1" cy="988.0" r="1.35" fill="#0000ff"/>
<circle cx="572.4" cy="994.7" r="1.35" fill="#0000ff"/>
<circle cx="585.6" cy="1003.0" r="1.35" fill="#0000ff"/>
<circle cx="598.9" cy="1010.4" r="1.35" fill="#0000ff"/>
<circle cx="612.1" cy="1006.3" r="1.35" fill="#0000ff"/>
<circle cx="625.4" cy="1005.5" r="1.35" fill="#0000ff"/>
<circle cx="638.6" cy="1001.4" r="1.35" fill="#0000ff"/>
<circle cx="651.9" cy="1001.2" r="1.35" fill="#0000ff"/>
<circle cx="665.1" cy="1000.6" r="1.35" fill="#0000ff"/>
<circle cx="678.4" cy="1000.6" r="1.35" fill="#0000ff"/>
<circle cx="691.6" cy="1000.4" r="1.35" fill="#0000ff"/>
<circle cx="704.9" cy="1001.2" r="1.35" fill="#0000ff"/>
<circle cx="718.1" cy="1001.2" r="1.35" fill="#0000ff"/>
<circle cx="731.4" cy="1000.6" r="1.35" fill="#0000ff"/>
<circle cx="744.6" cy="1002.2" r="1.35" fill="#0000ff"/>
<circle cx="757.9" cy="1003.0" r="1.35" fill="#0000ff"/>
<circle cx="771.1" cy="1005.5" r="1.35" fill="#0000ff"/>
<circle cx="784.4" cy="1003.8" r="1.35" fill="#0000ff"/>
<circle cx="797.6" cy="1001.4" r="1.35" fill="#0000ff"/>
<circle cx="810.9" cy="995.5" r="1.35" fill="#0000ff"/>
<circle cx="824.1" cy="991.4" r="1.35" fill="#0000ff"/>
<circle cx="837.4" cy="986.4" r="1.35" fill="#0000ff"/>
<circle cx="850.6" cy="978.9" r="1.35" fill="#0000ff"/>
<circle cx="863.9" cy="976.4" r="1.35" fill="#0000ff"/>
<circle cx="877.1" cy="973.0" r="1.35" fill="#0000ff"/>
<circle cx="890.4" cy="971.5" r="1.35" fill="#0000ff"/>
<circle cx="903.6" cy="970.5" r="1.35" fill="#0000ff"/>
<circle cx="916.9" cy="968.0" r="1.35" fill="#0000ff"/>
<circle cx="930.1" cy="968.0" r="1.35" fill="#0000ff"/>
<circle cx="943.4" cy="968.0" r="1.35" fill="#0000ff"/>
<circle cx="956.6" cy="968.9" r="1.35" fill="#0000ff"/>
<circle cx="969.9" cy="969.7" r="1.35" fill="#0000ff"/>
<circle cx="983.1" cy="972.3" r="1.35" fill="#0000ff"/>
<circle cx="996.4" cy="973.0" r="1.35" fill="#0000ff"/>
<circle cx="1009.6" cy="973.2" r="1.35" fill="#0000ff"/>
<circle cx="1022.9" cy="973.0" r="1.35" fill="#0000ff"/>
<circle cx="1036.1" cy="973.8" r="1.35" fill="#0000ff"/>
<circle cx="1049.4" cy="975.6" r="1.35" fill="#0000ff"/>
<circle cx="1062.6" cy="975.6" r="1.35" fill="#0000ff"/>
<circle cx="1075.9" cy="977.3" r="1.35" fill="#0000ff"/>
<circle cx="1089.1" cy="978.0" r="1.35" fill="#0000ff"/>
<circle cx="1102.4" cy="979.7" r="1.35" fill="#0000ff"/>
<circle cx="1115.6" cy="979.7" r="1.35" fill="#0000ff"/>
<circle cx="1128.9" cy="981.5" r="1.35" fill="#0000ff"/>
<circle cx="1142.1" cy="984.8" r="1.35" fill="#0000ff"/>
<circle cx="1155.4" cy="986.4" r="1.35" fill="#0000ff"/>
<circle cx="1168.6" cy="987.3" r="1.35" fill="#0000ff"/>
<circle cx="1181.9" cy="987.9" r="1.35" fill="#0000ff"/>
<circle cx="1195.1" cy="990.5" r="1.35" fill="#0000ff"/>
<circle cx="1208.4" cy="993.8" r="1.35" fill="#0000ff"/>
<circle cx="1221.6" cy="994.7" r="1.35" fill="#0000ff"/>
<circle cx="1234.9" cy="996.3" r="1.35" fill="#0000ff"/>
<circle cx="1248.1" cy="997.1" r="1.35" fill="#0000ff"/>
<circle cx="1261.4" cy="999.7" r="1.35" fill="#0000ff"/>
<circle cx="1274.6" cy="1001.2" r="1.35" fill="#0000ff"/>
<circle cx="1287.9" cy="1001.2" r="1.35" fill="#0000ff"/>
<circle cx="1301.1" cy="1001.2" r="1.35" fill="#0000ff"/>
<circle cx="1314.4" cy="1004.7" r="1.35" fill="#0000ff"/>
<circle cx="1327.7" cy="1009.6" r="1.35" fill="#0000ff"/>
<circle cx="1340.9" cy="1010.4" r="1.35" fill="#0000ff"/>
<circle cx="1354.2" cy="1013.7" r="1.35" fill="#0000ff"/>
<circle cx="1367.4" cy="1016.1" r="1.35" fill="#0000ff"/>
<circle cx="1380.7" cy="1017.0" r="1.35" fill="#0000ff"/>
<circle cx="1393.9" cy="1016.1" r="1.35" fill="#0000ff"/>
<circle cx="1407.2" cy="1017.0" r="1.35" fill="#0000ff"/>
<circle cx="1420.4" cy="1016.1" r="1.35" fill="#0000ff"/>
<circle cx="1433.7" cy="1016.1" r="1.35" fill="#0000ff"/>
<circle cx="1446.9" cy="1015.3" r="1.35" fill="#0000ff"/>
<circle cx="1460.2" cy="1010.4" r="1.35" fill="#0000ff"/>
<circle cx="1473.4" cy="1007.9" r="1.35" fill="#0000ff"/>
<circle cx="1486.7" cy="1005.5" r="1.35" fill="#0000ff"/>
<circle cx="1499.9" cy="1004.7" r="1.35" fill="#0000ff"/>
<circle cx="1513.2" cy="1001.2" r="1.35" fill="#0000ff"/>
<circle cx="1526.4" cy="998.1" r="1.35" fill="#0000ff"/>
<circle cx="1539.7" cy="993.8" r="1.35" fill="#0000ff"/>
<circle cx="1552.9" cy="993.8" r="1.35" fill="#0000ff"/>
<circle cx="1566.2" cy="996.3" r="1.35" fill="#0000ff"/>
<circle cx="1579.4" cy="997.9" r="1.35" fill="#0000ff"/>
<circle cx="1592.7" cy="1006.1" r="1.35" fill="#0000ff"/>
<circle cx="1605.9" cy="1015.3" r="1.35" fill="#0000ff"/>
<circle cx="1619.2" cy="1017.0" r="1.35" fill="#0000ff"/>
<circle cx="1632.4" cy="1017.0" r="1.35" fill="#0000ff"/>
<circle cx="1645.7" cy="1017.8" r="1.35" fill="#0000ff"/>
<circle cx="1658.9" cy="1017.8" r="1.35" fill="#0000ff"/>
<circle cx="1672.2" cy="1019.4" r="1.35" fill="#0000ff"/>
<circle cx="1685.4" cy="1021.0" r="1.35" fill="#0000ff"/>
<circle cx="1698.7" cy="1021.0" r="1.35" fill="#0000ff"/>
<circle cx="1711.9" cy="1021.9" r="1.35" fill="#0000ff"/>
<circle cx="1725.2" cy="1021.9" r="1.35" fill="#0000ff"/>
<circle cx="1738.4" cy="1022.7" r="1.35" fill="#0000ff"/>
<circle cx="1751.7" cy="1023.5" r="1.35" fill="#0000ff"/>
<circle cx="1764.9" cy="1023.5" r="1.35" fill="#0000ff"/>
<circle cx="1778.2" cy="1024.3" r="1.35" fill="#0000ff"/>
<circle cx="1791.4" cy="1024.3" r="1.35" fill="#0000ff"/>
<circle cx="1804.7" cy="1020.2" r="1.35" fill="#0000ff"/>
<circle cx="1817.9" cy="1017.8" r="1.35" fill="#0000ff"/>
<circle cx="1831.2" cy="1016.1" r="1.35" fill="#0000ff"/>
<circle cx="1844.4" cy="1013.7" r="1.35" fill="#0000ff"/>
<circle cx="1857.7" cy="1006.3" r="1.35" fill="#0000ff"/>
<circle cx="1870.9" cy="1003.0" r="1.35" fill="#0000ff"/>
<circle cx="1884.2" cy="1000.6" r="1.35" fill="#0000ff"/>
<circle cx="1897.4" cy="998.8" r="1.35" fill="#0000ff"/>
<circle cx="1910.7" cy="994.7" r="1.35" fill="#0000ff"/>
<circle cx="1923.9" cy="992.2" r="1.35" fill="#0000ff"/>
<circle cx="1937.2" cy="991.4" r="1.35" fill="#0000ff"/>
<circle cx="1950.4" cy="988.9" r="1.35" fill="#0000ff"/>
<circle cx="1963.7" cy="986.4" r="1.35" fill="#0000ff"/>
<circle cx="1976.9" cy="982.3" r="1.35" fill="#0000ff"/>
<circle cx="1990.2" cy="978.9" r="1.35" fill="#0000ff"/>
<circle cx="2003.4" cy="976.4" r="1.35" fill="#0000ff"/>
<circle cx="2016.7" cy="974.8" r="1.35" fill="#0000ff"/>
<circle cx="2029.9" cy="971.5" r="1.35" fill="#0000ff"/>
<circle cx="2043.2" cy="967.4" r="1.35" fill="#0000ff"/>
<circle cx="2056.4" cy="959.0" r="1.35" fill="#0000ff"/>
<circle cx="2069.7" cy="957.4" r="1.35" fill="#0000ff"/>
<circle cx="2082.9" cy="958.2" r="1.35" fill="#0000ff"/>
<circle cx="2096.2" cy="959.0" r="1.35" fill="#0000ff"/>
<circle cx="2109.4" cy="960.7" r="1.35" fill="#0000ff"/>
<circle cx="2122.7" cy="962.3" r="1.35" fill="#0000ff"/>
<circle cx="2135.9" cy="964.0" r="1.35" fill="#0000ff"/>
<circle cx="2149.2" cy="966.6" r="1.35" fill="#0000ff"/>
<circle cx="2162.4" cy="968.9" r="1.35" fill="#0000ff"/>
<circle cx="2175.7" cy="970.7" r="1.35" fill="#0000ff"/>
<circle cx="2188.9" cy="971.5" r="1.35" fill="#0000ff"/>
<circle cx="2202.2" cy="968.0" r="1.35" fill="#0000ff"/>
<circle cx="2215.4" cy="968.0" r="1.35" fill="#0000ff"/>
<circle cx="2228.7" cy="969.7" r="1.35" fill="#0000ff"/>
<circle cx="2241.9" cy="971.5" r="1.35" fill="#0000ff"/>
<circle cx="2255.2" cy="972.3" r="1.35" fill="#0000ff"/>
<circle cx="2268.4" cy="974.8" r="1.35" fill="#0000ff"/>
<circle cx="2281.7" cy="977.3" r="1.35" fill="#0000ff"/>
<circle cx="2294.9" cy="978.9" r="1.35" fill="#0000ff"/>
<circle cx="2308.2" cy="979.7" r="1.35" fill="#0000ff"/>
<circle cx="2321.4" cy="979.7" r="1.35" fill="#0000ff"/>
<circle cx="2334.7" cy="979.7" r="1.35" fill="#0000ff"/>
<circle cx="2347.9" cy="979.7" r="1.35" fill="#0000ff"/>
<circle cx="2361.2" cy="980.5" r="1.35" fill="#0000ff"/>
<circle cx="2374.4" cy="980.5" r="1.35" fill="#0000ff"/>
<circle cx="2387.7" cy="983.0" r="1.35" fill="#0000ff"/>
<circle cx="2400.9" cy="983.8" r="1.35" fill="#0000ff"/>
<circle cx="2414.2" cy="984.9" r="1.35" fill="#0000ff"/>
<circle cx="2427.4" cy="986.4" r="1.35" fill="#0000ff"/>
<circle cx="2440.7" cy="986.4" r="1.35" fill="#0000ff"/>
<circle cx="2453.9" cy="986.6" r="1.35" fill="#0000ff"/>
<circle cx="2467.2" cy="986.4" r="1.35" fill="#0000ff"/>
<circle cx="2480.4" cy="986.4" r="1.35" fill="#0000ff"/>
<circle cx="2493.7" cy="985.6" r="1.35" fill="#0000ff"/>
</g>
<circle cx="1022.6" cy="980.4" r="47.6" fill="none" stroke="#111" stroke-width="1.9"/>
<rect x="1.25" y="0" width="1.8" height="1080" fill="#7c7c7c"/>
<rect x="2498.3" y="0" width="1.7" height="1080.2" fill="#6a6a6a"/>
<rect x="1.3" y="906.05" width="2498.7" height="1.8" fill="#8c8c8c"/>
<rect x="1.3" y="907.85" width="2498.7" height="1.55" fill="#3e3e3e"/>
<rect x="1.3" y="1078.55" width="2498.7" height="1.55" fill="#606060"/>
<path d="M2.55 411V454" stroke="#a80a0a" stroke-width="1.2" fill="none"/>
<rect x="2500" y="16.1" width="1.5" height="1.9" fill="#444"/>
<text class="u" x="2504.5" y="21.9" textLength="49.9" lengthAdjust="spacingAndGlyphs">2067.905</text>
<rect x="2500" y="69.7" width="1.5" height="1.9" fill="#444"/>
<text class="u" x="2504.5" y="75.6" textLength="49.9" lengthAdjust="spacingAndGlyphs">2062.730</text>
<rect x="2500" y="123.4" width="1.5" height="1.9" fill="#444"/>
<text class="u" x="2504.5" y="129.3" textLength="49.9" lengthAdjust="spacingAndGlyphs">2057.555</text>
<rect x="2500" y="177.1" width="1.5" height="1.9" fill="#444"/>
<text class="u" x="2504.5" y="182.9" textLength="49.9" lengthAdjust="spacingAndGlyphs">2052.380</text>
<rect x="2500" y="231.5" width="1.5" height="1.9" fill="#444"/>
<text class="u" x="2504.5" y="237.4" textLength="49.9" lengthAdjust="spacingAndGlyphs">2047.130</text>
<rect x="2500" y="285.2" width="1.5" height="1.9" fill="#444"/>
<text class="u" x="2504.5" y="291.1" textLength="49.9" lengthAdjust="spacingAndGlyphs">2041.955</text>
<rect x="2500" y="338.9" width="1.5" height="1.9" fill="#444"/>
<text class="u" x="2504.5" y="344.7" textLength="49.9" lengthAdjust="spacingAndGlyphs">2036.780</text>
<rect x="2500" y="392.6" width="1.5" height="1.9" fill="#444"/>
<text class="u" x="2504.5" y="398.4" textLength="49.9" lengthAdjust="spacingAndGlyphs">2031.605</text>
<rect x="2500" y="446.3" width="1.5" height="1.9" fill="#444"/>
<text class="u" x="2504.5" y="452.1" textLength="49.9" lengthAdjust="spacingAndGlyphs">2026.430</text>
<rect x="2500" y="499.9" width="1.5" height="1.9" fill="#444"/>
<text class="u" x="2504.5" y="505.8" textLength="49.9" lengthAdjust="spacingAndGlyphs">2021.255</text>
<rect x="2500" y="553.6" width="1.5" height="1.9" fill="#444"/>
<text class="u" x="2504.5" y="559.5" textLength="49.9" lengthAdjust="spacingAndGlyphs">2016.080</text>
<rect x="2500" y="608.1" width="1.5" height="1.9" fill="#444"/>
<text class="u" x="2504.5" y="613.9" textLength="49.9" lengthAdjust="spacingAndGlyphs">2010.830</text>
<rect x="2500" y="661.7" width="1.5" height="1.9" fill="#444"/>
<text class="u" x="2504.5" y="667.6" textLength="49.9" lengthAdjust="spacingAndGlyphs">2005.655</text>
<rect x="2500" y="715.4" width="1.5" height="1.9" fill="#444"/>
<text class="u" x="2504.5" y="721.3" textLength="49.9" lengthAdjust="spacingAndGlyphs">2000.480</text>
<rect x="2500" y="769.1" width="1.5" height="1.9" fill="#444"/>
<text class="u" x="2504.5" y="774.9" textLength="49.9" lengthAdjust="spacingAndGlyphs">1995.305</text>
<rect x="2500" y="822.8" width="1.5" height="1.9" fill="#444"/>
<text class="u" x="2504.5" y="828.6" textLength="49.9" lengthAdjust="spacingAndGlyphs">1990.130</text>
<rect x="2500" y="876.5" width="1.5" height="1.9" fill="#444"/>
<text class="u" x="2504.5" y="882.3" textLength="49.9" lengthAdjust="spacingAndGlyphs">1984.955</text>
<text class="u" x="2502.4" y="921.7" textLength="19.4" lengthAdjust="spacingAndGlyphs">100</text>
<text class="u" x="2502.4" y="1075.5" textLength="6.6" lengthAdjust="spacingAndGlyphs">0</text>
<rect x="2.1" y="1080" width="1.5" height="1.9" fill="#444"/>
<text class="t" x="2.1" y="1093.9">16 Jan 2024</text>
<rect x="108.2" y="1080" width="1.5" height="1.9" fill="#444"/>
<text class="t" x="108.1" y="1093.9">18 Jan 04:00</text>
<rect x="214.2" y="1080" width="1.5" height="1.9" fill="#444"/>
<text class="t" x="214.1" y="1093.9">19 Jan 12:00</text>
<rect x="320.2" y="1080" width="1.5" height="1.9" fill="#444"/>
<text class="t" x="320.1" y="1093.9">22 Jan 16:00</text>
<rect x="426.2" y="1080" width="1.5" height="1.9" fill="#444"/>
<text class="t" x="426.1" y="1093.9">24 Jan 00:00</text>
<rect x="532.2" y="1080" width="1.5" height="1.9" fill="#444"/>
<text class="t" x="532.1" y="1093.9">25 Jan 08:00</text>
<rect x="638.2" y="1080" width="1.5" height="1.9" fill="#444"/>
<text class="t" x="638.1" y="1093.9">26 Jan 16:00</text>
<rect x="744.2" y="1080" width="1.5" height="1.9" fill="#444"/>
<text class="t" x="744.1" y="1093.9">29 Jan 20:00</text>
<rect x="850.2" y="1080" width="1.5" height="1.9" fill="#444"/>
<text class="t" x="850.1" y="1093.9">31 Jan 04:00</text>
<rect x="956.2" y="1080" width="1.5" height="1.9" fill="#444"/>
<text class="t" x="956.1" y="1093.9">1 Feb 12:00</text>
<rect x="1062.2" y="1080" width="1.5" height="1.9" fill="#444"/>
<text class="t" x="1062.1" y="1093.9">2 Feb 20:00</text>
<rect x="1168.2" y="1080" width="1.5" height="1.9" fill="#444"/>
<text class="t" x="1168.1" y="1093.9">6 Feb 00:00</text>
<rect x="1274.2" y="1080" width="1.5" height="1.9" fill="#444"/>
<text class="t" x="1274.1" y="1093.9">7 Feb 08:00</text>
<rect x="1380.2" y="1080" width="1.5" height="1.9" fill="#444"/>
<text class="t" x="1380.2" y="1093.9">8 Feb 16:00</text>
<rect x="1486.2" y="1080" width="1.5" height="1.9" fill="#444"/>
<text class="t" x="1486.2" y="1093.9">11 Feb 23:05</text>
<rect x="1592.2" y="1080" width="1.5" height="1.9" fill="#444"/>
<text class="t" x="1592.2" y="1093.9">13 Feb 04:00</text>
<rect x="1698.2" y="1080" width="1.5" height="1.9" fill="#444"/>
<text class="t" x="1698.2" y="1093.9">14 Feb 12:00</text>
<rect x="1804.2" y="1080" width="1.5" height="1.9" fill="#444"/>
<text class="t" x="1804.2" y="1093.9">15 Feb 20:00</text>
<rect x="1910.2" y="1080" width="1.5" height="1.9" fill="#444"/>
<text class="t" x="1910.2" y="1093.9">19 Feb 00:00</text>
<rect x="2016.2" y="1080" width="1.5" height="1.9" fill="#444"/>
<text class="t" x="2016.2" y="1093.9">20 Feb 08:00</text>
<rect x="2122.2" y="1080" width="1.5" height="1.9" fill="#444"/>
<text class="t" x="2122.2" y="1093.9">21 Feb 16:00</text>
<rect x="2228.2" y="1080" width="1.5" height="1.9" fill="#444"/>
<text class="t" x="2228.2" y="1093.9">23 Feb 00:00</text>
<rect x="2334.2" y="1080" width="1.5" height="1.9" fill="#444"/>
<text class="t" x="2334.2" y="1093.9">26 Feb 04:00</text>
<rect x="2440.2" y="1080" width="1.5" height="1.9" fill="#444"/>
<text class="t" x="2440.2" y="1093.9">27 Feb 12:00</text>
<text class="u" x="5.5" y="11.7" textLength="60.6" lengthAdjust="spacingAndGlyphs">XAUUSD,H4</text>
<text class="u" x="72.8" y="11.7" textLength="49.9" lengthAdjust="spacingAndGlyphs">2668.093</text>
<text class="u" x="126.1" y="11.7" textLength="49.9" lengthAdjust="spacingAndGlyphs">2672.344</text>
<text class="u" x="178.8" y="11.7" textLength="49.9" lengthAdjust="spacingAndGlyphs">2666.477</text>
<text class="u" x="231.4" y="11.7" textLength="49.9" lengthAdjust="spacingAndGlyphs">2670.694</text>
<text class="s" x="5.9" y="922.9" textLength="135.3" lengthAdjust="spacingAndGlyphs">RSI Prognoz MT4 Indicator</text>
<g transform="scale(1.04,1)"><text class="big" x="1006.39 1039.18 1067.31 1082.74" y="165.3" font-size="45" stroke-width="1.9">Sell</text></g>
<text transform="translate(6.7,1069.9) scale(0.91,1)" font-family="Liberation Sans, sans-serif" font-size="25" fill="#000" stroke="#000" stroke-width="0.35">@</text>
<g transform="scale(1.07,1)"><text class="big" x="34.63 49.92 66.53 78.41 94.22 109.99 133.87 151.32 167.73 176.06 192.74 209.07 217.56 233.51 249.54 259.35 276.11 287.86 303.56 312.28 327.77 345.14" y="1071.6" font-size="26" stroke-width="1.05">ForexMT4Indicators.com</text></g>
<path d="M2.4 1071.5L9.2 1078.8H2.4Z" fill="#000"/>
</svg>
</body></html>
